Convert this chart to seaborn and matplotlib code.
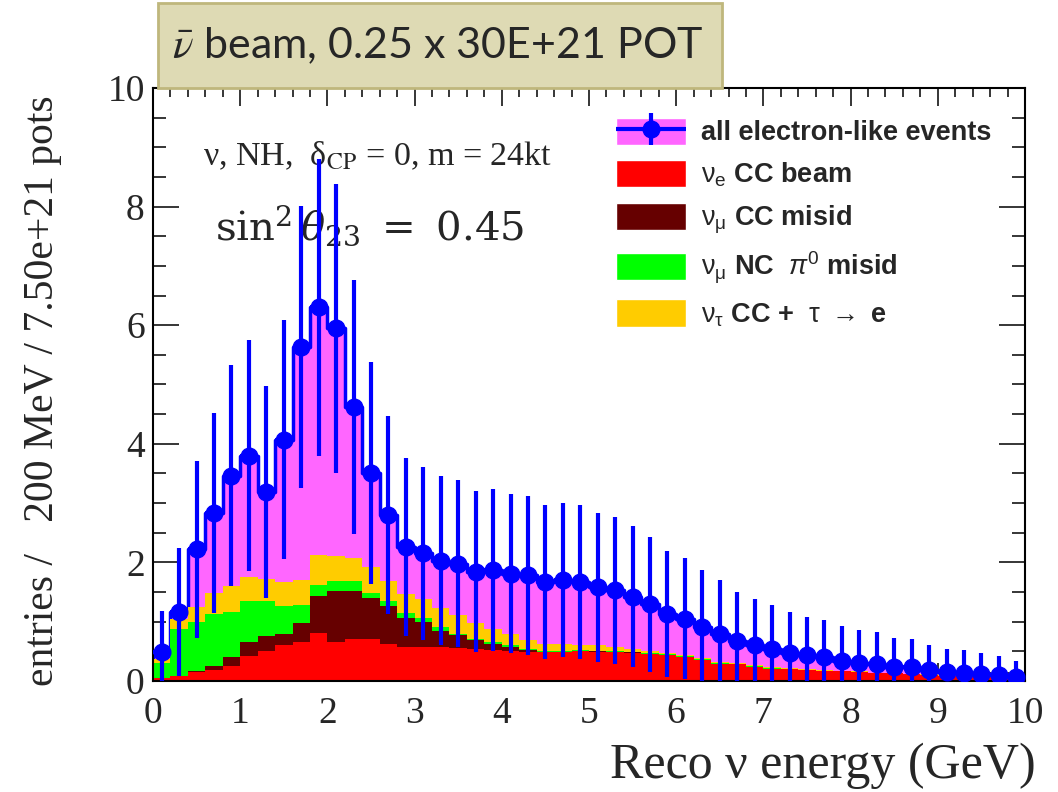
import numpy as np
import pandas as pd
import matplotlib
matplotlib.use("Agg")
import matplotlib.pyplot as plt
from matplotlib.patches import Patch, Rectangle
from matplotlib.legend_handler import HandlerTuple, HandlerErrorbar
from matplotlib.container import ErrorbarContainer
from matplotlib.ticker import MultipleLocator
import seaborn as sns

# 50 bins of 200 MeV between 0 and 10 GeV
bin_edges = list(np.linspace(0, 10, 51))
energy = [(a + b) / 2 for a, b in zip(bin_edges[:-1], bin_edges[1:])]

# all electron-like events (total, drawn with sqrt(N) errors)
all_elike = [0.48, 1.16, 2.22, 2.83, 3.46, 3.80, 3.19, 4.07, 5.63, 6.30,
             5.95, 4.62, 3.50, 2.80, 2.26, 2.15, 2.03, 1.98, 1.84, 1.87,
             1.81, 1.78, 1.67, 1.70, 1.67, 1.58, 1.53, 1.42, 1.29, 1.13,
             1.05, 0.91, 0.80, 0.68, 0.60, 0.54, 0.47, 0.43, 0.40, 0.34,
             0.31, 0.29, 0.24, 0.23, 0.18, 0.15, 0.14, 0.12, 0.10, 0.07]

# backgrounds, bottom to top of the stack
nue_cc = [0.05, 0.09, 0.15, 0.19, 0.26, 0.42, 0.51, 0.60, 0.65, 0.81,
          0.65, 0.71, 0.70, 0.62, 0.58, 0.57, 0.57, 0.56, 0.54, 0.53,
          0.51, 0.49, 0.48, 0.48, 0.50, 0.49, 0.48, 0.47, 0.45, 0.43,
          0.40, 0.36, 0.29, 0.28, 0.24, 0.21, 0.20, 0.19, 0.17, 0.16,
          0.15, 0.13, 0.13, 0.11, 0.10, 0.09, 0.08, 0.07, 0.06, 0.05]
numu_cc = [0.00, 0.00, 0.02, 0.07, 0.14, 0.24, 0.24, 0.19, 0.32, 0.63,
           0.87, 0.81, 0.70, 0.65, 0.49, 0.43, 0.28, 0.21, 0.15, 0.10,
           0.06, 0.03, 0.01, 0.01, 0.01, 0.01, 0.01, 0.01, 0.01, 0.01,
           0.01, 0.00, 0.00, 0.00, 0.00, 0.00, 0.00, 0.00, 0.00, 0.00,
           0.00, 0.00, 0.00, 0.00, 0.00, 0.00, 0.00, 0.00, 0.00, 0.00]
numu_nc = [0.25, 0.79, 0.82, 0.87, 0.76, 0.69, 0.60, 0.48, 0.31, 0.17,
           0.17, 0.17, 0.09, 0.08, 0.08, 0.06, 0.06, 0.03, 0.02, 0.03,
           0.03, 0.02, 0.02, 0.01, 0.01, 0.01, 0.01, 0.01, 0.01, 0.01,
           0.01, 0.01, 0.01, 0.01, 0.01, 0.01, 0.00, 0.00, 0.00, 0.00,
           0.00, 0.00, 0.00, 0.00, 0.00, 0.00, 0.00, 0.00, 0.00, 0.00]
nutau_cc = [0.07, 0.16, 0.25, 0.35, 0.44, 0.41, 0.37, 0.40, 0.43, 0.51,
            0.41, 0.39, 0.43, 0.33, 0.32, 0.33, 0.32, 0.31, 0.26, 0.22,
            0.20, 0.15, 0.12, 0.12, 0.09, 0.09, 0.07, 0.05, 0.03, 0.02,
            0.02, 0.02, 0.02, 0.02, 0.02, 0.02, 0.02, 0.01, 0.01, 0.01,
            0.01, 0.01, 0.01, 0.01, 0.01, 0.01, 0.01, 0.01, 0.01, 0.01]

labels = ["all electron-like events",
          r"$\mathrm{\nu_{e}}$ CC beam",
          r"$\mathrm{\nu_{\mu}}$ CC misid",
          r"$\mathrm{\nu_{\mu}}$ NC  $\pi^{\mathrm{0}}$ misid",
          r"$\mathrm{\nu_{\tau}}$ CC +  $\mathrm{\tau}$ $\mathbf{\rightarrow}$ e"]
colors = ["#ff66ff", "#ff0000", "#660000", "#00ff00", "#ffcc00"]

df = pd.DataFrame({"energy": energy, "total": all_elike, "nue": nue_cc,
                   "numu": numu_cc, "nc": numu_nc, "nutau": nutau_cc})
df["c_nue"] = df["nue"]
df["c_numu"] = df["c_nue"] + df["numu"]
df["c_nc"] = df["c_numu"] + df["nc"]
df["c_nutau"] = df["c_nc"] + df["nutau"]

sns.set_style("white")
plt.rcParams["font.family"] = ["Liberation Serif", "DejaVu Serif"]
plt.rcParams["mathtext.fontset"] = "custom"
plt.rcParams["mathtext.rm"] = "Liberation Sans"
plt.rcParams["mathtext.it"] = "Liberation Sans:italic"
plt.rcParams["mathtext.bf"] = "Liberation Sans:bold"

fig = plt.figure(figsize=(10.58, 7.92), dpi=100)
ax = fig.add_axes([0.1446, 0.1402, 0.8242, 0.7487])

# total, then the cumulative stack drawn from the top layer down
sns.histplot(data=df, x="energy", weights="total", bins=bin_edges, element="step",
             fill=True, color=colors[0], alpha=1, edgecolor="blue", linewidth=2.5, ax=ax)
for col, c in zip(["c_nutau", "c_nc", "c_numu", "c_nue"], colors[::-1]):
    sns.histplot(data=df, x="energy", weights=col, bins=bin_edges, element="step",
                 fill=True, color=c, alpha=1, linewidth=0, ax=ax)

eb = ax.errorbar(df["energy"], df["total"], xerr=0.1, yerr=np.sqrt(df["total"]),
                 fmt="o", color="blue", ms=12, elinewidth=3, capsize=0, zorder=5)

ax.set_xlim(0, 10)
ax.set_ylim(0, 10)
ax.xaxis.set_major_locator(MultipleLocator(1))
ax.xaxis.set_minor_locator(MultipleLocator(0.2))
ax.yaxis.set_major_locator(MultipleLocator(2))
ax.yaxis.set_minor_locator(MultipleLocator(0.5))
ax.tick_params(axis="x", which="major", direction="in", length=13, width=1.3,
               top=True, bottom=True, labelsize=27, pad=11)
ax.tick_params(axis="x", which="minor", direction="in", length=6.5, width=1.3,
               top=True, bottom=True)
ax.tick_params(axis="y", which="major", direction="in", length=19, width=1.3,
               left=True, right=True, labelsize=27, pad=6)
ax.tick_params(axis="y", which="minor", direction="in", length=9.5, width=1.3,
               left=True, right=True)
for s in ax.spines.values():
    s.set_color("black")
    s.set_linewidth(1.5)

ax.set_xlabel("Reco ν energy (GeV)", fontsize=36, loc="right")
ax.xaxis.set_label_coords(1.012, -0.104)
ax.set_ylabel("entries /   200 MeV / 7.50e+21 pots", fontsize=30)
ax.yaxis.set_label_coords(-0.104, 0.49)

ax.text(0.57, 8.7, "ν, NH,  δ$_{\\mathrm{CP}}$ = 0, m = 24kt", fontsize=24.5,
        math_fontfamily="stix", va="baseline")
ax.text(0.71, 7.44, r"$\sin^2\theta_{23}\ =\ 0.45$", fontsize=29,
        math_fontfamily="dejavuserif", va="baseline")

handles = [(Patch(facecolor=colors[0]), eb)] + [Patch(facecolor=c) for c in colors[1:]]
ax.legend(handles, labels, loc="upper left", bbox_to_anchor=(0.531, 0.95),
          frameon=False, borderaxespad=0, borderpad=0,
          prop={"family": "Liberation Sans", "weight": "bold", "size": 19.5},
          handlelength=2.6, handleheight=1.18, labelspacing=0.5, handletextpad=0.52,
          handler_map={tuple: HandlerTuple(ndivide=1),
                       ErrorbarContainer: HandlerErrorbar(xerr_size=1.3, yerr_size=0.6)})

# title box above the frame
fig.patches.append(Rectangle((0.1493, 0.8889), 0.533, 0.1073, transform=fig.transFigure,
                             facecolor="#dedab4", edgecolor="#bfb77c", linewidth=2))
fig.text(0.414, 0.942, r"$\bar{\nu}$ beam, 0.25 x 30E+21 POT", fontsize=31,
         family="Lato", math_fontfamily="stix", ha="center", va="center")

fig.savefig("out.png", dpi=100)
